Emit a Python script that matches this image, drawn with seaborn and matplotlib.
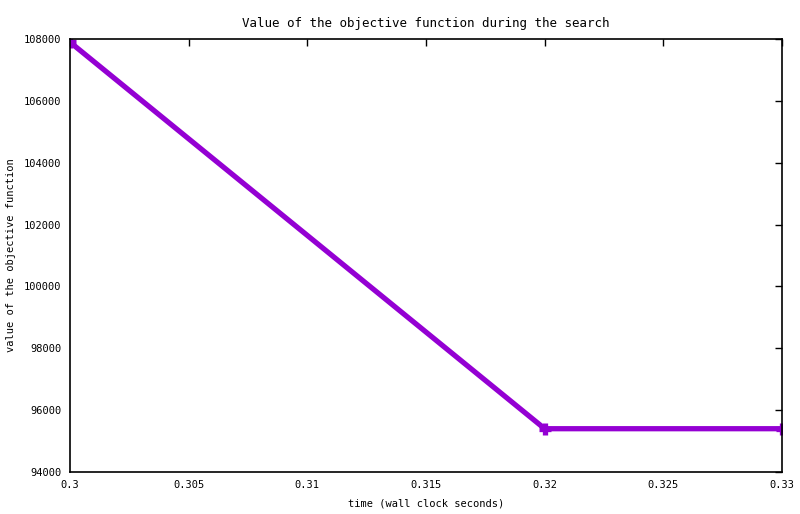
import pandas as pd
import matplotlib
matplotlib.use('Agg')
import matplotlib.pyplot as plt
import seaborn as sns

# 数据
times = [0.30, 0.32, 0.33]
objective = [107900, 95400, 95400]
x_ticks = [0.3, 0.305, 0.31, 0.315, 0.32, 0.325, 0.33]
x_labels = ['0.3', '0.305', '0.31', '0.315', '0.32', '0.325', '0.33']
y_ticks = [94000, 96000, 98000, 100000, 102000, 104000, 106000, 108000]

df = pd.DataFrame({'time': times, 'value': objective})

sns.set_style('white')
plt.rcParams['font.family'] = ['DejaVu Sans Mono']
plt.rcParams['font.size'] = 7.5
plt.rcParams['text.color'] = 'black'
plt.rcParams['axes.labelcolor'] = 'black'

fig = plt.figure(figsize=(8, 5.14), dpi=100)
ax = fig.add_axes([0.0875, 0.0817, 0.89, 0.8423])

sns.lineplot(data=df, x='time', y='value', ax=ax, color='#9400D3',
             linewidth=3.8, marker='+', markersize=9, markeredgewidth=3.8,
             markeredgecolor='#9400D3')

ax.set_xlim(0.3, 0.33)
ax.set_ylim(94000, 108000)
ax.set_xticks(x_ticks)
ax.set_xticklabels(x_labels)
ax.set_yticks(y_ticks)
ax.set_yticklabels([str(v) for v in y_ticks])
ax.tick_params(direction='in', top=True, right=True, length=5, width=1,
               colors='black', pad=6)
for s in ax.spines.values():
    s.set_color('black')
    s.set_linewidth(1.2)

ax.set_title('Value of the objective function during the search', pad=9,
             color='black')
ax.set_xlabel('time (wall clock seconds)', labelpad=6)
ax.set_ylabel('value of the objective function', labelpad=6)

plt.savefig('out.png', dpi=100)
